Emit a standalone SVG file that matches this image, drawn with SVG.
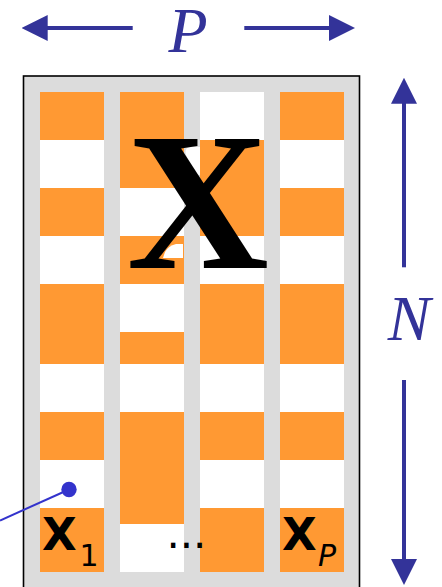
<svg xmlns="http://www.w3.org/2000/svg" width="442" height="587" viewBox="0 0 442 587">
  <defs>
    <marker id="head" viewBox="0 -13 26 26" markerWidth="26" markerHeight="26" refX="1" refY="0" orient="auto" markerUnits="userSpaceOnUse">
      <path d="M0,-13 L26,0 L0,13 Z" fill="#333399"/>
    </marker>
    <style>
      .col { fill: #ffffff; }
      .or { fill: #FF9933; }
      .dim { stroke: #333399; stroke-width: 4; fill: none; }
      .dimlab { font-family: "Liberation Serif", "Times New Roman", serif; font-style: italic; font-size: 64px; fill: #333399; }
      .vec { font-family: "DejaVu Sans", Verdana, sans-serif; font-weight: bold; font-size: 45px; fill: #000; }
      .sub { font-family: "DejaVu Sans", Verdana, sans-serif; font-size: 30px; fill: #000; }
    </style>
  </defs>

  <g id="matrix">
    <rect x="23.5" y="76" width="336" height="530" fill="#DCDCDC" stroke="#000" stroke-width="1.6"/>
    <g id="column1">
      <rect class="col" x="40" y="92" width="64" height="480"/>
      <rect class="or" x="40" y="92" width="64" height="48"/>
      <rect class="or" x="40" y="188" width="64" height="48"/>
      <rect class="or" x="40" y="284" width="64" height="80"/>
      <rect class="or" x="40" y="412" width="64" height="48"/>
      <rect class="or" x="40" y="508" width="64" height="64"/>
    </g>
    <g id="column2">
      <rect class="col" x="120" y="92" width="64" height="480"/>
      <rect class="or" x="120" y="92" width="64" height="96"/>
      <rect class="or" x="120" y="236" width="64" height="48"/>
      <rect class="or" x="120" y="332" width="64" height="32"/>
      <rect class="or" x="120" y="412" width="64" height="112"/>
    </g>
    <g id="column3">
      <rect class="col" x="200" y="92" width="64" height="480"/>
      <rect class="or" x="200" y="140" width="64" height="96"/>
      <rect class="or" x="200" y="284" width="64" height="80"/>
      <rect class="or" x="200" y="412" width="64" height="48"/>
      <rect class="or" x="200" y="508" width="64" height="64"/>
    </g>
    <g id="columnP">
      <rect class="col" x="280" y="92" width="64" height="480"/>
      <rect class="or" x="280" y="92" width="64" height="48"/>
      <rect class="or" x="280" y="188" width="64" height="48"/>
      <rect class="or" x="280" y="284" width="64" height="80"/>
      <rect class="or" x="280" y="412" width="64" height="48"/>
      <rect class="or" x="280" y="508" width="64" height="64"/>
    </g>
    <path d="M200,147 L189,147 Q184,149 186,155 L193,170 Q196,175 200,175 Z" fill="#fff"/>
    <path d="M183,244 L176,244 Q168,246 165,252 L163,258 L183,258 Z" fill="#fff"/>
    <text id="bigX" x="198" y="267.5" text-anchor="middle" font-family="'Liberation Serif', 'Times New Roman', serif" font-weight="bold" font-size="197" fill="#000">X</text>
  </g>

  <g id="label-x1">
    <text class="vec" x="42" y="550">X</text>
    <text class="sub" x="79.5" y="565.5">1</text>
  </g>
  <g id="label-dots">
    <text x="166.4" y="548.3" font-family="'DejaVu Sans', Verdana, sans-serif" font-size="42" fill="#000">...</text>
  </g>
  <g id="label-xP">
    <text class="vec" x="282" y="550">X</text>
    <text class="sub" x="318" y="566" font-style="italic">P</text>
  </g>

  <g id="label-P">
    <text class="dimlab" x="188" y="52" text-anchor="middle">P</text>
  </g>
  <g id="label-N">
    <text class="dimlab" x="409" y="340" text-anchor="middle">N</text>
  </g>

  <g id="connectors">
    <line class="dim" x1="132.7" y1="28" x2="46.7" y2="28" marker-end="url(#head)"/>
    <line class="dim" x1="244.3" y1="28" x2="330" y2="28" marker-end="url(#head)"/>
    <line class="dim" x1="404" y1="267.3" x2="404" y2="102.7" marker-end="url(#head)"/>
    <line class="dim" x1="404" y1="380" x2="404" y2="560" marker-end="url(#head)"/>
    <line x1="0" y1="520.5" x2="69" y2="489.5" stroke="#3333CC" stroke-width="2"/>
    <circle cx="69" cy="489.5" r="7.7" fill="#3333CC"/>
  </g>
</svg>
